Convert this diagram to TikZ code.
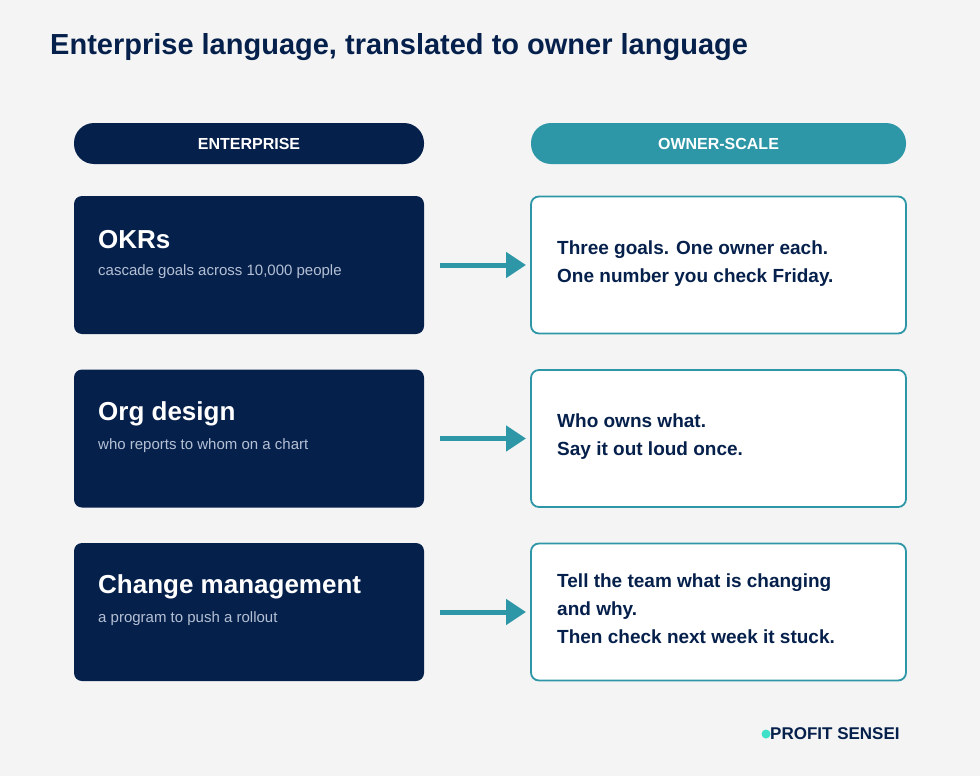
\documentclass[tikz,border=0pt]{standalone}
\usepackage{fontspec}
\setmainfont{Liberation Sans}
\usetikzlibrary{positioning,calc,arrows.meta}
\definecolor{navy}{HTML}{06204C}
\definecolor{teal}{HTML}{2E97A7}
\definecolor{bgcol}{HTML}{F4F4F4}
\definecolor{subcol}{HTML}{B4C0D4}
\definecolor{logodot}{HTML}{3FE0C8}
\tikzset{
  entbox/.style={fill=navy, rounded corners=8pt, minimum width=350pt, minimum height=138pt, inner sep=0pt},
  ownbox/.style={fill=white, draw=teal, line width=1.8pt, rounded corners=8pt, minimum width=375pt, minimum height=137pt, inner sep=0pt},
  pill/.style={rounded corners=20pt, minimum height=41pt, inner sep=0pt, text=white, font=\fontsize{16}{19}\selectfont\bfseries},
  termtxt/.style={anchor=west, text=white, font=\fontsize{26}{30}\selectfont\bfseries, inner sep=0pt},
  subtxt/.style={anchor=west, text=subcol, font=\fontsize{15}{18}\selectfont, inner sep=0pt},
  owntxt/.style={anchor=west, align=left, text=navy, font=\fontsize{19}{28}\selectfont\bfseries, inner sep=0pt},
  maparrow/.style={draw=teal, line width=5pt, -{Triangle[length=20pt,width=25pt]}}
}
\begin{document}
\begin{tikzpicture}[x=1pt,y=-1pt]
\fill[bgcol] (0,0) rectangle (980,776);
\useasboundingbox (0,0) rectangle (980,776);
\node[anchor=west, text=navy, font=\fontsize{29}{34}\selectfont\bfseries, inner sep=0pt] (title) at (50,47) {Enterprise language, translated to owner language};
% column heads
\node[pill, fill=navy, minimum width=350pt] (enthead) at (249,143.5) {ENTERPRISE};
\node[pill, fill=teal, minimum width=375pt] (ownhead) at (718.5,143.5) {OWNER-SCALE};
% rows
\foreach \i/\yc/\term/\sub in {1/265/OKRs/{cascade goals across 10,000 people},
                               2/438.5/Org design/{who reports to whom on a chart},
                               3/612/Change management/{a program to push a rollout}} {
  \node[entbox] (ent\i) at (249,\yc) {};
  \node[ownbox] (own\i) at (718.5,\yc) {};
  \node[termtxt] (term\i) at (98,\yc-25) {\term};
  \node[subtxt] (sub\i) at (98,\yc+7) {\sub};
  \coordinate (a\i) at (440,\yc);
  \coordinate (b\i) at (526,\yc);
  \draw[maparrow] (a\i) -- (b\i);
}
\node[owntxt] (txt1) at (557,264) {Three goals. One owner each.\\One number you check Friday.};
\node[owntxt] (txt2) at (557,437) {Who owns what.\\Say it out loud once.};
\node[owntxt] (txt3) at (557,609) {Tell the team what is changing\\and why.\\Then check next week it stuck.};
% logo
\fill[logodot] (766,734) circle (4.5pt);
\node[anchor=west, text=navy, font=\fontsize{17}{20}\selectfont\bfseries, inner sep=0pt] (logo) at (770,734) {PROFIT SENSEI};
\end{tikzpicture}
\end{document}
